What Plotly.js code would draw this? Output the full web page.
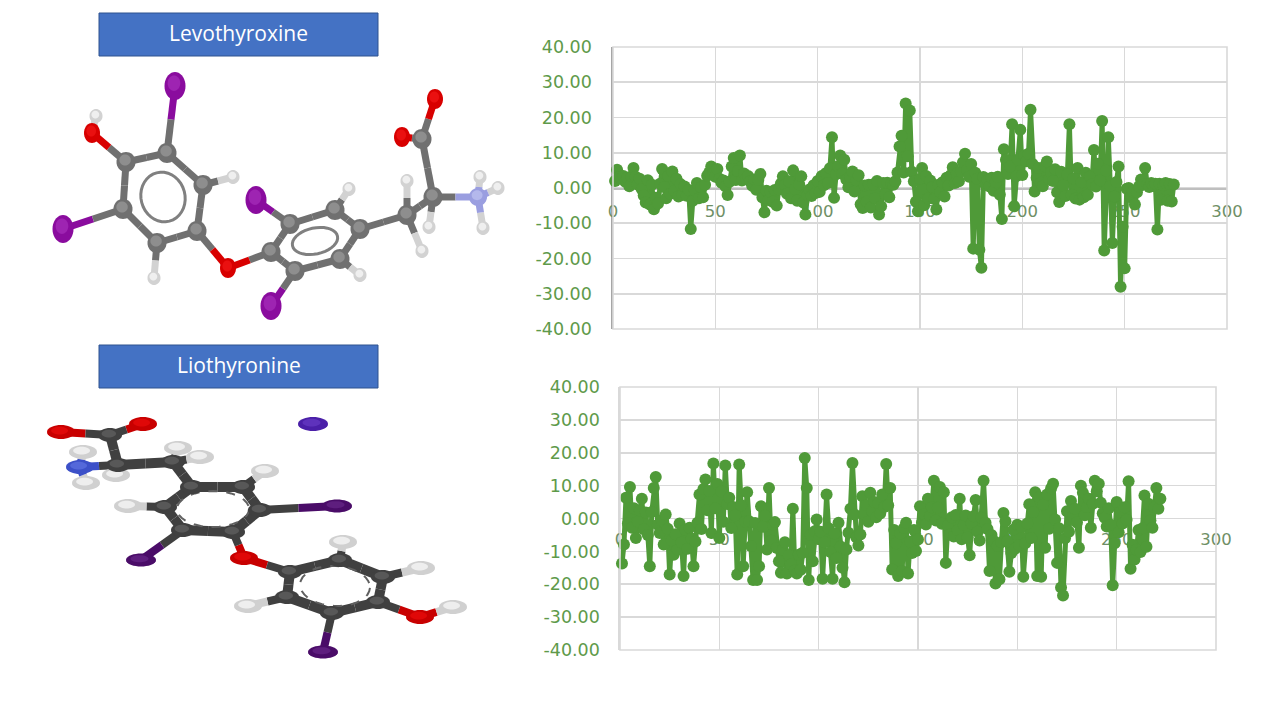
<!DOCTYPE html>
<html><head><meta charset="utf-8">
<script src="https://cdn.plot.ly/plotly-3.0.1.min.js"></script>
<style>html,body{margin:0;padding:0;background:#fff}#c{width:1280px;height:720px}</style></head>
<body><div id="c"></div>
<script>
const yTickVals=[40,30,20,10,0,-10,-20,-30,-40];
const yTickText=["40.00","30.00","20.00","10.00","0.00","-10.00","-20.00","-30.00","-40.00"];
const xTickVals=[0,50,100,150,200,250,300];
const xTickText=["0","50","100","150","200","250","300"];
const levothyroxine=[
2.0,5.2,3.1,2.6,3.4,1.8,2.9,0.5,3.3,5.7,
3.2,1.0,2.6,-0.3,-2.1,-4.1,2.2,-4.7,0.9,-6.0,
-2.8,-4.4,1.2,5.4,0.3,-2.9,3.4,-1.6,4.7,-0.8,
2.6,-2.4,1.1,-1.9,0.4,-2.2,-0.6,-11.6,-3.6,-0.7,
1.4,-2.9,0.2,-2.6,0.9,3.5,4.4,6.1,4.1,3.2,
5.4,2.6,1.5,2.1,0.4,-2.0,1.8,6.1,8.5,2.3,
4.8,9.2,2.1,4.1,2.6,3.4,1.9,0.6,2.4,-0.5,
2.3,4.0,-2.7,-6.9,-0.8,-3.4,-1.1,-3.9,-0.6,-5.0,
-0.4,1.2,3.3,0.9,-1.6,1.9,-2.9,5.0,-0.3,-3.6,
1.0,3.3,-4.1,-7.5,-1.9,-0.4,-2.3,0.8,-1.4,2.0,
-1.1,3.4,0.8,4.2,1.4,5.6,14.4,-2.8,3.9,6.2,
9.2,4.1,8.0,2.4,0.2,3.1,4.7,-1.0,2.2,3.6,
-4.6,-5.7,0.7,-3.9,0.9,-5.5,1.0,-2.9,2.0,-7.5,
-5.2,1.4,-1.7,1.5,-2.6,1.3,0.9,1.9,4.4,11.8,
14.8,4.4,24.0,9.0,22.0,4.6,1.9,-3.9,-6.6,2.6,
5.7,-4.9,3.4,-3.0,2.1,0.3,-3.1,-6.1,0.9,-1.2,
1.6,-2.4,2.9,0.7,3.6,5.9,1.4,4.1,1.9,4.7,
7.3,9.7,5.1,3.2,6.8,-17.2,4.3,2.6,-17.5,-22.6,
3.1,0.9,2.3,0.4,2.9,-0.8,1.6,3.2,-1.9,-8.8,
11.0,8.0,4.0,6.1,18.1,-5.2,3.3,8.1,16.5,3.7,
9.2,7.6,9.7,22.2,6.8,-1.0,2.9,5.7,1.5,0.5,
6.2,7.5,2.4,4.4,2.0,5.3,-1.2,-4.0,4.6,0.8,
-2.3,3.8,18.1,-1.9,2.7,-3.0,5.7,-3.3,1.6,-2.6,
4.3,-1.9,3.2,1.0,10.8,0.4,6.9,2.2,19.0,-17.7,
4.9,14.4,0.6,-15.6,-2.4,1.7,6.1,-28.0,-11.0,-22.8,
-0.2,0.0,-2.6,-1.0,-4.7,-1.2,0.4,2.4,0.9,5.7,
1.1,0.3,1.4,0.6,1.2,-11.8,1.2,-3.3,0.8,1.4,-3.6,1.1,-3.8,1.0];
const liothyronine=[
-13.7,-7.9,6.3,-1.5,9.6,-2.8,3.1,-5.9,-1.0,2.4,
6.0,-3.3,1.8,-5.0,-14.5,2.0,9.3,12.6,-1.9,-4.4,
-0.6,-7.9,1.2,-3.1,-17.0,-6.6,-11.0,-4.8,-9.5,-1.5,
-7.3,-17.5,-3.4,-9.2,-2.8,-6.1,-14.5,-7.0,-1.3,7.3,
-3.2,9.0,11.9,2.5,8.4,-4.4,16.7,3.1,10.5,-5.9,
8.2,-1.0,16.1,4.4,6.3,-2.9,3.5,1.0,-17.0,16.4,
4.0,-14.5,-1.0,8.0,-0.8,-8.4,-18.7,-1.4,-18.7,-14.5,
3.7,-2.5,0.8,-9.4,9.3,-6.8,-1.9,-1.1,-9.0,-13.0,
-16.5,-9.4,-7.2,-16.7,-11.2,-14.0,3.0,-15.8,-16.7,-11.0,
-15.6,-10.4,18.4,9.3,-18.7,-5.0,-13.0,-3.9,-0.3,-6.2,
-4.0,-18.3,-7.2,7.3,-3.0,-10.2,-18.3,-4.6,-12.0,-1.3,
-8.5,-15.0,-19.4,-9.4,-4.3,3.0,16.9,1.2,-5.8,-8.2,
-4.9,6.8,1.4,4.1,-1.0,7.8,2.2,5.0,0.4,4.6,
1.5,7.3,3.5,16.6,4.0,9.3,-15.5,-3.5,-7.5,-17.5,
-4.6,-16.0,-2.9,-1.3,-16.7,-7.0,-10.5,-3.5,-9.9,-6.4,
3.7,-1.2,1.3,-1.8,6.0,0.8,3.4,11.5,-0.6,3.3,
9.6,-1.6,8.0,-13.5,-2.1,-4.9,0.4,-5.5,1.1,-3.6,
6.0,-6.3,-2.0,0.9,-5.8,-11.2,-1.5,0.7,5.6,-4.0,
-6.7,0.2,11.5,-1.3,-3.2,-16.0,-5.0,-6.8,-19.8,-8.3,
-18.5,-7.2,1.7,-0.8,-6.9,-16.2,-10.5,-3.4,-9.1,-1.9,
-8.1,-2.6,-17.7,-7.5,-1.5,4.3,-5.9,2.0,8.0,-17.5,
6.5,-17.7,4.2,-8.9,7.3,-3.1,9.2,10.6,-0.3,-13.5,
-3.0,-21.0,-23.4,-6.0,2.2,-4.0,5.3,0.6,3.0,-1.2,
-8.9,10.0,7.8,1.0,3.5,6.0,-2.8,4.5,11.5,8.3,
10.6,4.8,1.6,0.2,-2.4,3.1,-1.9,-20.3,-7.5,5.0,
-4.2,2.0,-1.5,3.4,-0.4,11.3,-15.3,-8.0,-12.5,-9.5,
-3.5,-10.2,-3.0,7.0,-8.6,4.5,-0.6,-2.8,3.4,9.3,3.0,6.0];

// ball-and-stick drawings in page coordinates: [element, x, y]
const levoAtoms=[["I",175,86],["C",167,153],["H",96,116],["O",92,133],["C",126,162],["C",123,209],["I",63,229],["C",157,243],["H",154,278],["C",197,231],["C",203,185],["H",233,177],["O",228,268],["C",271,252],["I",256,200],["C",290,224],["C",335,210],["H",349,189],["C",360,229],["C",340,259],["H",360,275],["C",295,271],["I",271,306],["C",407,215],["H",407,181],["H",422,251],["C",433,197],["H",429,227],["C",422,139],["O",402,137],["O",435,99],["N",478,197],["H",480,177],["H",498,188],["H",483,228]];
const levoBonds=[[0,1],[1,4],[1,10],[2,3],[3,4],[4,5],[5,6],[5,7],[7,8],[7,9],[9,10],[10,11],[9,12],[12,13],[13,15],[13,21],[14,15],[15,16],[16,17],[16,18],[18,19],[19,20],[19,21],[21,22],[18,23],[23,24],[23,25],[23,26],[26,27],[26,28],[28,29],[28,30],[26,31],[31,32],[31,33],[31,34]];
const lioAtoms=[["O",61,432],["O",143,424],["C",110,435],["H",83,452],["N",80,467],["H",86,483],["H",116,475],["C",118,465],["C",173,462],["H",178,448],["H",200,457],["C",192,487],["C",243,487],["H",265,471],["C",260,510],["I",337,506],["C",233,532],["O",244,558],["C",183,530],["I",141,560],["C",165,507],["H",128,506],["J",313,424],["C",290,572],["C",340,560],["H",343,542],["C",383,577],["H",421,568],["C",378,602],["O",420,617],["H",453,607],["C",332,613],["I",323,652],["C",287,597],["H",248,606]];
const lioBonds=[[0,2],[1,2],[2,7],[3,4],[4,5],[4,7],[7,6],[7,8],[8,9],[8,10],[8,11],[11,12],[12,13],[12,14],[14,15],[14,16],[16,17],[16,18],[18,19],[18,20],[20,21],[20,11],[17,23],[23,24],[24,25],[24,26],[26,27],[26,28],[28,29],[29,30],[28,31],[31,32],[31,33],[33,34],[33,23]];
const titles=[["Levothyroxine",99,378,13,56],["Liothyronine",99,378,345,388]];
const levoRings=[[163,197,22,25,-15],[315,241,23,13,-12]];
const lioRings=[[213,509,36,18,0],[335,586,35,20,3]];

const GREEN="#4F9A38", GRID="#D9D9D9";
const levoStyle={C:{c:"#707070",h:"#8E8E8E",rx:9.5,ry:10,w:7},H:{c:"#D2D2D2",h:"#EFEFEF",rx:6.5,ry:7,w:7},O:{c:"#D80000",h:"#EA1010",rx:8,ry:10,w:7},I:{c:"#8A0C9E",h:"#9E24B2",rx:10.5,ry:14,w:7},N:{c:"#9A9EE0",h:"#B4B8EC",rx:9,ry:9,w:7}};
const lioStyle={C:{c:"#404040",h:"#585858",rx:12,ry:7,w:10},H:{c:"#D0D0D0",h:"#EEEEEE",rx:14,ry:7,w:8},O:{c:"#C80000",h:"#E00808",rx:14,ry:7,w:8},I:{c:"#4A0C68",h:"#5E1E7E",rx:15,ry:6.5,w:8},J:{c:"#4A1FA8",h:"#5E32BC",rx:15,ry:7,w:8},N:{c:"#3C50C8",h:"#5468DA",rx:14,ry:7,w:8}};

function ellipsePath(cx,cy,rx,ry,rot){
  const t=rot*Math.PI/180,p=[];
  for(let i=0;i<36;i++){const a=i*Math.PI/18,ex=rx*Math.cos(a),ey=ry*Math.sin(a);
    p.push((i?"L":"M")+(cx+ex*Math.cos(t)-ey*Math.sin(t)).toFixed(2)+","+(cy+ex*Math.sin(t)+ey*Math.cos(t)).toFixed(2));}
  return p.join(" ")+" Z";
}
function bondTraces(atoms,bonds,style){
  const groups={};
  bonds.forEach(([a,b])=>{
    const A=atoms[a],B=atoms[b],mx=(A[1]+B[1])/2,my=(A[2]+B[2])/2;
    [[A,mx,my],[B,mx,my]].forEach(([E,x,y])=>{
      const k=E[0],w=Math.min(style[A[0]].w,style[B[0]].w);
      const key=k+w; groups[key]=groups[key]||{k,w,x:[],y:[]};
      groups[key].x.push(E[1],x,null);groups[key].y.push(E[2],y,null);
    });
  });
  return Object.values(groups).map(g=>({type:"scatter",mode:"lines",xaxis:"x3",yaxis:"y3",x:g.x,y:g.y,hoverinfo:"skip",showlegend:false,line:{color:style[g.k].c,width:g.w}}));
}
function atomShapes(atoms,style){
  const out=[];
  atoms.forEach(([e,x,y])=>{const s=style[e];
    out.push({type:"path",xref:"x3",yref:"y3",layer:"above",path:ellipsePath(x,y,s.rx,s.ry,0),fillcolor:s.c,line:{width:0}});
    out.push({type:"path",xref:"x3",yref:"y3",layer:"above",path:ellipsePath(x-s.rx*.1,y-s.ry*.2,s.rx*.6,s.ry*.55,0),fillcolor:s.h,line:{width:0}});
  });
  return out;
}
function ringShapes(rings,color,width,dash){
  return rings.map(([x,y,rx,ry,r])=>({type:"path",xref:"x3",yref:"y3",layer:"above",path:ellipsePath(x,y,rx,ry,r),fillcolor:"rgba(0,0,0,0)",line:{color,width,dash}}));
}
function lineTrace(y,xa,ya){return {type:"scatter",mode:"lines+markers",xaxis:xa,yaxis:ya,x:y.map((_,i)=>i+1),y,cliponaxis:false,showlegend:false,hoverinfo:"skip",line:{color:GREEN,width:5},marker:{color:GREEN,size:12,line:{width:0}}};}

const W=1280,H=720;
function xAxis(l,r,zeroY,gap,showLine){return {domain:[l/W,r/W],range:[0,300],anchor:"free",position:1-zeroY/H,tickmode:"array",tickvals:xTickVals,ticktext:xTickText,ticks:"outside",ticklen:gap,tickcolor:"rgba(0,0,0,0)",tickfont:{family:"DejaVu Sans",size:16.5,color:"#6F8F66"},showgrid:true,gridcolor:GRID,gridwidth:1.6,zeroline:false,showline:showLine,linecolor:"#BFBFBF",linewidth:1.6,layer:"below traces",fixedrange:true};}
function yAxis(t,b,anchor,lineColor,gap){return {domain:[1-b/H,1-t/H],range:[-40,40],anchor,tickmode:"array",tickvals:yTickVals,ticktext:yTickText,ticks:"outside",ticklen:gap,tickcolor:"rgba(0,0,0,0)",tickfont:{family:"DejaVu Sans",size:17.5,color:"#5E9A4A"},showgrid:true,gridcolor:GRID,gridwidth:1.6,zeroline:false,showline:true,linecolor:lineColor,linewidth:1.6,layer:"below traces",fixedrange:true};}

const frameShapes=[[613,1227,47,329],[620,1216,387,650]].map(([a,b,c,d])=>({type:"rect",xref:"x3",yref:"y3",layer:"below",x0:a,x1:b,y0:c,y1:d,fillcolor:"rgba(0,0,0,0)",line:{color:GRID,width:1.6}}));

const traces=[lineTrace(levothyroxine,"x","y"),lineTrace(liothyronine,"x2","y2"),
  ...bondTraces(levoAtoms,levoBonds,levoStyle),...bondTraces(lioAtoms,lioBonds,lioStyle)];
const shapes=[...frameShapes,
  ...titles.map(([,x0,x1,y0,y1])=>({type:"rect",xref:"x3",yref:"y3",layer:"above",x0,x1,y0,y1,fillcolor:"#4472C4",line:{color:"#2F528F",width:1}})),
  ...ringShapes(levoRings,"#808080",3,"solid"),...ringShapes(lioRings,"#606060",2,"dash"),
  ...atomShapes(levoAtoms,levoStyle),...atomShapes(lioAtoms,lioStyle)];
const layout={width:W,height:H,margin:{l:0,r:0,t:0,b:0},paper_bgcolor:"#fff",plot_bgcolor:"rgba(0,0,0,0)",showlegend:false,
  xaxis:xAxis(613,1227,188,8,true),yaxis:yAxis(47,329,"x","#A6A6A6",16),
  xaxis2:xAxis(620,1216,518.5,6,false),yaxis2:yAxis(387,650,"x2",GRID,15),
  xaxis3:{domain:[0,1],range:[0,W],visible:false,anchor:"y3",fixedrange:true},
  yaxis3:{domain:[0,1],range:[H,0],visible:false,anchor:"x3",fixedrange:true},
  shapes,
  annotations:titles.map(([t,x0,x1,y0,y1])=>({xref:"x3",yref:"y3",x:(x0+x1)/2,y:(y0+y1)/2-1.5,text:t,showarrow:false,font:{family:"Open Sans",size:21,color:"#fff"},xanchor:"center",yanchor:"middle"}))};
Plotly.newPlot("c",traces,layout,{staticPlot:true,displayModeBar:false});
</script></body></html>
